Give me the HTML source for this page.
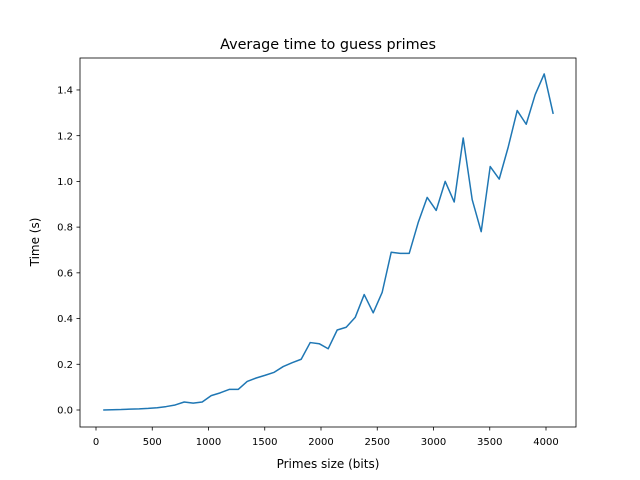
<!DOCTYPE html>
<html><head><meta charset="utf-8"><style>body{margin:0;background:#fff}svg{display:block;font-family:"DejaVu Sans","Liberation Sans",sans-serif}</style></head>
<body>
<svg id="chart" width="640" height="480" xmlns="http://www.w3.org/2000/svg">
<rect width="640" height="480" fill="#fff"/>
<text x="328" y="49" font-size="14.4" text-anchor="middle">Average time to guess primes</text>
<g id="axes"></g>
<rect x="80" y="58" width="496" height="369" fill="none" stroke="#000" stroke-width="0.8"/>
<text x="328" y="468" font-size="12" text-anchor="middle">Primes size (bits)</text>
<text transform="translate(39,242) rotate(-90)" font-size="12" text-anchor="middle">Time (s)</text>
</svg>
<script>
const xTicks=[0,500,1000,1500,2000,2500,3000,3500,4000];
const yTicks=[0.0,0.2,0.4,0.6,0.8,1.0,1.2,1.4];
const sizes=[64,144,224,304,384,464,544,624,704,784,864,944,1024,1104,1184,1264,1344,1424,1504,1584,1664,1744,1824,1904,1984,2064,2144,2224,2304,2384,2464,2544,2624,2704,2784,2864,2944,3024,3104,3184,3264,3344,3424,3504,3584,3664,3744,3824,3904,3984,4064];
const times=[0.0,0.001,0.002,0.004,0.005,0.007,0.010,0.015,0.022,0.035,0.030,0.035,0.063,0.075,0.09,0.09,0.125,0.14,0.152,0.165,0.19,0.207,0.222,0.295,0.29,0.268,0.35,0.362,0.405,0.505,0.425,0.515,0.69,0.685,0.685,0.82,0.93,0.873,1.0,0.91,1.19,0.92,0.78,1.065,1.01,1.15,1.31,1.25,1.38,1.47,1.295];
const xs=v=>96+v*0.1125, ys=v=>410-v*228.6;
const NS="http://www.w3.org/2000/svg", g=document.getElementById('axes');
function mk(t,a){const e=document.createElementNS(NS,t);for(const k in a)e.setAttribute(k,a[k]);g.appendChild(e);return e;}
xTicks.forEach(v=>{const x=xs(v);
 const l=mk('line',{x1:x,x2:x,y1:427,y2:430.5,stroke:'#000','stroke-width':0.8});
 
 
 const t=mk('text',{x:x,y:445,'font-size':10,'text-anchor':'middle'});t.textContent=v;
 
 });
yTicks.forEach(v=>{const y=ys(v);
 const l=mk('line',{x1:76.5,x2:80,y1:y,y2:y,stroke:'#000','stroke-width':0.8});
 
 
 const t=mk('text',{x:73,y:y+3.6,'font-size':10,'text-anchor':'end'});t.textContent=v.toFixed(1);
 
 });
const p=mk('polyline',{points:sizes.map((s,i)=>xs(s)+','+ys(times[i])).join(' '),fill:'none',stroke:'#1f77b4','stroke-width':1.5,'stroke-linejoin':'round'});


</script>
</body></html>
